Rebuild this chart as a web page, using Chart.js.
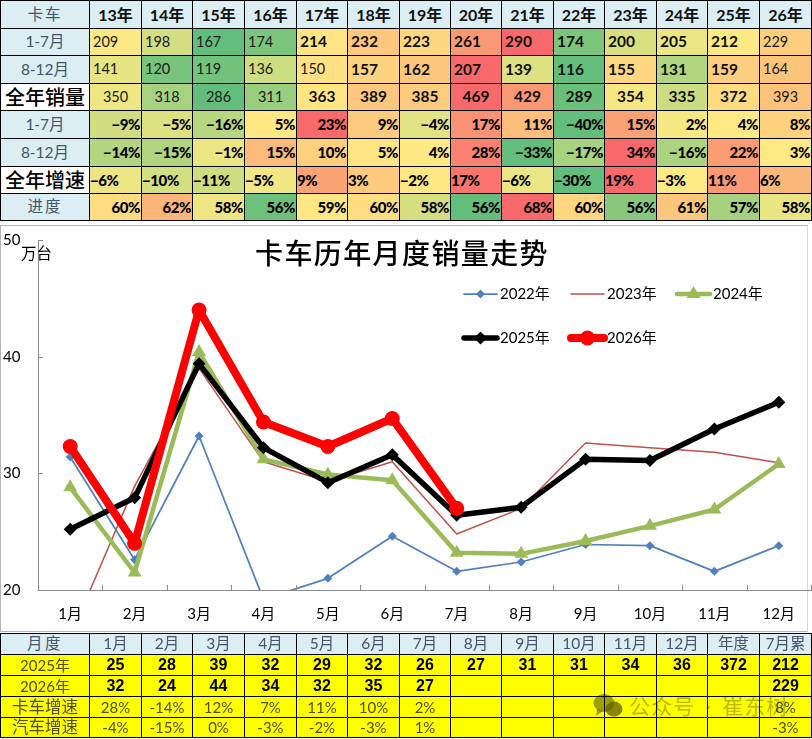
<!DOCTYPE html>
<html lang="zh">
<head>
<meta charset="utf-8">
<title>卡车历年月度销量走势</title>
<script src="https://cdn.jsdelivr.net/npm/chart.js@4/dist/chart.umd.js"></script>
<style>
    html, body { margin: 0; padding: 0; background: #fff; }
    body { position: relative; width: 812px; height: 739px; overflow: hidden; font-family: Lato, "Noto Sans CJK SC", sans-serif; }
    table { position: absolute; left: 0; border-collapse: collapse; table-layout: fixed; width: 811px; }
    td { border: 1px solid #000; padding: 0; overflow: hidden; white-space: nowrap; text-align: center; line-height: 1; }
    #topTable { top: 0; }
    #topTable td { font-size: 14.5px; color: #1a1a1a; }
    #topTable tr:first-child td { background: #daeef3; font-size: 16px; font-weight: 700; color: #111; }
    #topTable td.head, #topTable tr:first-child td.head { background: #daeef3; color: #44546a; font-size: 15.5px; font-weight: 400; }
    #topTable td.spaced { letter-spacing: 2px; }
    #topTable td.big { background: #fff; color: #000; font-size: 20px; font-weight: 500; }
    #topTable td.b { font-weight: 700; font-size: 15.5px; color: #111; }
    #topTable td.pct { font-weight: 900; font-size: 15px; color: #000; text-align: right; padding-right: 1px; letter-spacing: -.4px; }
    #topTable td.lft { text-align: left; padding-left: 3px; }
    #topTable td.pctLeft { text-align: left; padding-left: 0; padding-right: 0; }
    #botTable { top: 633px; mix-blend-mode: multiply; }
    #botTable td { background: #ff0; font-size: 15px; color: #4f4f0a; }
    #botTable tr:first-child td { background: #daeef3; color: #44546a; font-size: 15.5px; }
    #botTable td.spaced { letter-spacing: 2.5px; }
    #botTable td.wide { font-size: 16.5px; }
    #botTable td.val { font-family: "Liberation Sans", sans-serif; font-weight: 700; font-size: 16px; color: #000; }
    #frame { position: absolute; left: 0; top: 225px; width: 806px; height: 405px; border: 1px solid #b4b4b4; border-right-color: #d8d8d8; }
    #plot { position: absolute; left: 0; top: 225px; width: 812px; height: 405px; }
    #chartTitle { position: absolute; left: 255px; top: 232px; font-family: "Noto Sans CJK SC", sans-serif; font-size: 28px; font-weight: 500; line-height: 40px; letter-spacing: 1.4px; color: #000; white-space: nowrap; }
    #unit { position: absolute; left: 21px; top: 244px; font-size: 15.5px; line-height: 18px; color: #000; }
    #mark { position: absolute; left: 593px; top: 693px; width: 210px; height: 26px; color: rgba(96, 96, 72, .45); font-size: 21px; line-height: 26px; letter-spacing: 1px; word-spacing: 4px; }
    #mark svg { position: absolute; left: 0; top: 0; }
    #mark span { position: absolute; left: 36px; top: 0; white-space: nowrap; }
</style>
</head>
<body>
<table id="topTable"></table>
<div id="frame"></div>
<div id="plot"><canvas id="salesChart" width="812" height="405"></canvas></div>
<div id="chartTitle">卡车历年月度销量走势</div>
<div id="unit">万台</div>
<div id="mark">
    <svg width="30" height="26" viewBox="0 0 30 26">
        <ellipse cx="11" cy="10" rx="10.5" ry="9" fill="rgba(96,96,72,.6)"/>
        <path d="M4 16 L3 23 L10 18 Z" fill="rgba(96,96,72,.6)"/>
        <ellipse cx="21" cy="16" rx="8.5" ry="7.5" fill="rgba(96,96,72,.75)"/>
    </svg>
    <span>公众号 · 崔东树</span>
</div>
<table id="botTable"></table>

<script>
// top table
const yearHeaders = ['13年', '14年', '15年', '16年', '17年', '18年', '19年', '20年', '21年', '22年', '23年', '24年', '25年', '26年'];
const salesJanJul = [209, 198, 167, 174, 214, 232, 223, 261, 290, 174, 200, 205, 212, 229];
const salesAugDec = [141, 120, 119, 136, 150, 157, 162, 207, 139, 116, 155, 131, 159, 164];
const salesFull = [350, 318, 286, 311, 363, 389, 385, 469, 429, 289, 354, 335, 372, 393];
const growthJanJul = [-9, -5, -16, 5, 23, 9, -4, 17, 11, -40, 15, 2, 4, 8];
const growthAugDec = [-14, -15, -1, 15, 10, 5, 4, 28, -33, -17, 34, -16, 22, 3];
const growthFull = [-6, -10, -11, -5, 9, 3, -2, 17, -6, -30, 19, -3, 11, 6];
const progress = [59.7, 62.3, 58.4, 55.9, 59.0, 59.6, 57.9, 55.7, 67.6, 60.2, 56.4, 61.2, 57.0, 58.3];

// chart
const months = ['1月', '2月', '3月', '4月', '5月', '6月', '7月', '8月', '9月', '10月', '11月', '12月'];
const sales2022 = [31.4, 22.6, 33.2, 19.2, 21.0, 24.6, 21.6, 22.4, 23.9, 23.8, 21.6, 23.8];
const sales2023 = [16.0, 28.9, 39.0, 31.0, 29.3, 31.0, 24.8, 27.0, 32.6, 32.2, 31.8, 30.9];
const sales2024 = [28.8, 21.5, 40.4, 31.2, 29.9, 29.4, 23.2, 23.1, 24.2, 25.5, 26.9, 30.8];
const sales2025 = [25.2, 27.9, 39.4, 32.2, 29.2, 31.6, 26.4, 27.1, 31.2, 31.1, 33.8, 36.1];
const sales2026 = [32.3, 24.0, 44.0, 34.4, 32.3, 34.7, 27.0];
const yTicks = [20, 30, 40, 50];

// bottom table
const monthHeaders = ['1月', '2月', '3月', '4月', '5月', '6月', '7月', '8月', '9月', '10月', '11月', '12月', '年度', '7月累'];
const rounded2025 = ['25', '28', '39', '32', '29', '32', '26', '27', '31', '31', '34', '36', '372', '212'];
const rounded2026 = ['32', '24', '44', '34', '32', '35', '27', '', '', '', '', '', '', '229'];
const truckGrowth = ['28%', '-14%', '12%', '7%', '11%', '10%', '2%', '', '', '', '', '', '', '8%'];
const autoGrowth = ['-4%', '-15%', '0%', '-3%', '-2%', '-3%', '1%', '', '', '', '', '', '', '-3%'];

const colWidths = [89, 52, 51, 52, 52, 51, 52, 51, 51, 52, 51, 52, 51, 52, 52];
const topRowHeights = [28, 27, 28, 27, 28, 28, 27, 27];
const botRowHeights = [21, 21, 21, 21, 20];

// same as the sheet's red-yellow-green colour scale, per row
function heatColours(values) {
    const sorted = values.slice().sort((a, b) => a - b);
    const n = sorted.length;
    const mid = n % 2 ? sorted[(n - 1) / 2] : (sorted[n / 2 - 1] + sorted[n / 2]) / 2;
    const lo = sorted[0], hi = sorted[n - 1];
    const green = [99, 190, 123], yellow = [255, 235, 132], red = [248, 105, 107];
    return values.map(v => {
        const from = v <= mid ? green : yellow;
        const to = v <= mid ? yellow : red;
        const t = v <= mid ? (v - lo) / (mid - lo) : (v - mid) / (hi - mid);
        return 'rgb(' + from.map((c, i) => Math.round(c + (to[i] - c) * t)).join(',') + ')';
    });
}

function colGroup() {
    return '<colgroup>' + colWidths.map(w => `<col style="width:${w}px">`).join('') + '</colgroup>';
}

function pctText(v) {
    return (v < 0 ? '\u2212' + Math.abs(v) : v) + '%';
}

function heatRow(label, labelClass, values, text, cellClass, height) {
    const colours = heatColours(values);
    const cells = values.map((v, i) => `<td class="${cellClass(i)}" style="background:${colours[i]}">${text(v)}</td>`);
    return `<tr style="height:${height}px"><td class="${labelClass}">${label}</td>${cells.join('')}</tr>`;
}

function buildTopTable() {
    const h = topRowHeights;
    let html = colGroup();
    html += `<tr style="height:${h[0]}px"><td class="head spaced">卡车</td>` + yearHeaders.map(y => `<td>${y}</td>`).join('') + '</tr>';
    html += heatRow('1-7月', 'head', salesJanJul, v => v, i => 'lft' + (i >= 4 && i < 13 ? ' b' : ''), h[1]);
    html += heatRow('8-12月', 'head', salesAugDec, v => v, i => 'lft' + (i >= 5 && i < 13 ? ' b' : ''), h[2]);
    html += heatRow('全年销量', 'big', salesFull, v => v, i => (i >= 4 && i < 13 ? 'b' : ''), h[3]);
    html += heatRow('1-7月', 'head', growthJanJul, pctText, () => 'pct', h[4]);
    html += heatRow('8-12月', 'head', growthAugDec, pctText, () => 'pct', h[5]);
    html += heatRow('全年增速', 'big', growthFull, pctText, () => 'pct pctLeft', h[6]);
    html += heatRow('进度', 'head spaced', progress, v => Math.round(v) + '%', () => 'pct', h[7]);
    document.getElementById('topTable').innerHTML = html;
}

function buildBotTable() {
    const h = botRowHeights;
    const row = (label, labelClass, values, cls, height) => `<tr style="height:${height}px"><td class="${labelClass}">${label}</td>` +
        values.map(v => `<td class="${cls}">${v}</td>`).join('') + '</tr>';
    document.getElementById('botTable').innerHTML = colGroup() +
        row('月度', 'spaced', monthHeaders, '', h[0]) +
        row('2025年', '', rounded2025, 'val', h[1]) +
        row('2026年', '', rounded2026, 'val', h[2]) +
        row('卡车增速', 'wide', truckGrowth, '', h[3]) +
        row('汽车增速', 'wide', autoGrowth, '', h[4]);
}

// inward tick marks on both axes, the excel look
const axisMarks = {
    id: 'axisMarks',
    afterDraw(chart) {
        const { ctx, chartArea: a, scales: { x, y } } = chart;
        const step = x.getPixelForValue(1) - x.getPixelForValue(0);
        ctx.save();
        ctx.strokeStyle = '#8c8c8c';
        ctx.lineWidth = 1;
        ctx.beginPath();
        for (let i = 0; i <= months.length; i++) {
            const px = Math.round(x.getPixelForValue(0) - step / 2 + i * step) + 0.5;
            ctx.moveTo(px, a.bottom);
            ctx.lineTo(px, a.bottom - 5);
        }
        y.ticks.forEach(t => {
            const py = Math.round(y.getPixelForValue(t.value)) + 0.5;
            ctx.moveTo(a.left, py);
            ctx.lineTo(a.left + 5, py);
        });
        ctx.stroke();
        ctx.restore();
    }
};

// legend sits inside the plot in two rows, so it is drawn from the datasets here
const legendRows = {
    id: 'legendRows',
    afterDraw(chart) {
        const { ctx } = chart;
        const spots = [[464, 69], [571, 69], [677, 69], [464, 113], [571, 113]];
        chart.data.datasets.forEach((ds, i) => {
            const [lx, ly] = spots[i];
            ctx.save();
            ctx.strokeStyle = ds.borderColor;
            ctx.fillStyle = ds.borderColor;
            ctx.lineWidth = ds.borderWidth;
            ctx.lineCap = 'round';
            ctx.beginPath();
            ctx.moveTo(lx, ly);
            ctx.lineTo(lx + 33, ly);
            ctx.stroke();
            if (ds.pointRadius) {
                Chart.helpers.drawPoint(ctx, { pointStyle: ds.pointStyle, radius: ds.pointRadius, rotation: 0, borderWidth: 0 }, lx + 16.5, ly);
            }
            ctx.fillStyle = '#000';
            ctx.font = '15px Lato, "Noto Sans CJK SC"';
            ctx.textBaseline = 'middle';
            ctx.fillText(ds.label, lx + 36, ly);
            ctx.restore();
        });
    }
};

function lineSet(label, data, colour, width, style, radius, order) {
    return {
        label, data, order,
        borderColor: colour, backgroundColor: colour, borderWidth: width,
        pointStyle: style, pointRadius: radius, pointHoverRadius: radius, pointBorderWidth: 0,
        borderJoinStyle: 'round', borderCapStyle: 'round', tension: 0, clip: 0
    };
}

function renderChart() {
    new Chart(document.getElementById('salesChart'), {
        type: 'line',
        data: {
            labels: months,
            datasets: [
                lineSet('2022年', sales2022, '#4f81bd', 1.75, 'rectRot', 4.5, 5),
                lineSet('2023年', sales2023, '#c0504d', 1.5, false, 0, 4),
                lineSet('2024年', sales2024, '#9bbb59', 4.5, 'triangle', 8, 3),
                lineSet('2025年', sales2025, '#000000', 5.5, 'rectRot', 6.5, 2),
                lineSet('2026年', sales2026, '#ff0000', 8, 'circle', 7.5, 1)
            ]
        },
        options: {
            responsive: false,
            animation: false,
            // tick padding counts towards the top inset, so labels hang off the scale's left edge instead
            layout: { autoPadding: false, padding: { left: 3, right: 1, top: 15, bottom: 0 } },
            plugins: {
                legend: { display: false },
                tooltip: { enabled: false }
            },
            scales: {
                x: {
                    offset: true,
                    grid: { display: false },
                    border: { color: '#8c8c8c', width: 1 },
                    ticks: { color: '#000', padding: 7, maxRotation: 0, autoSkip: false, font: { family: 'Lato, "Noto Sans CJK SC"', size: 15 } },
                    afterFit(scale) { scale.height = 40; }
                },
                y: {
                    min: 20,
                    max: 50,
                    afterBuildTicks(scale) { scale.ticks = yTicks.map(value => ({ value })); },
                    grid: { display: false, drawTicks: false },
                    border: { color: '#8c8c8c', width: 1 },
                    ticks: { color: '#000', padding: 0, crossAlign: 'far', font: { family: 'Lato, "Noto Sans CJK SC"', size: 15 } },
                    afterFit(scale) { scale.width = 35; }
                }
            }
        },
        plugins: [axisMarks, legendRows]
    });
}

buildTopTable();
buildBotTable();
renderChart();
</script>
</body>
</html>
